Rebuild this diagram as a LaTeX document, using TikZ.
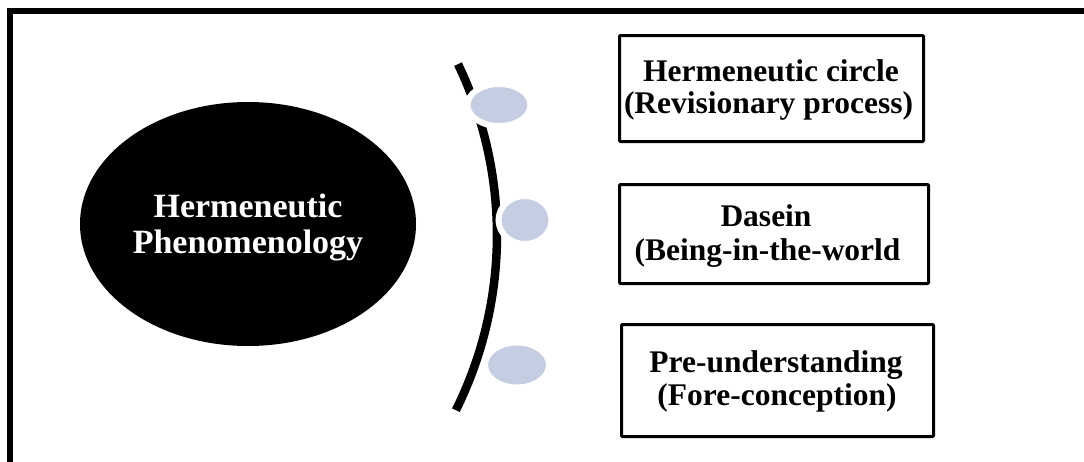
\documentclass[tikz,border=0pt]{standalone}
\usepackage{fontspec}
\setmainfont{Liberation Serif}
\usetikzlibrary{shapes.geometric}
\definecolor{blobblue}{RGB}{196,205,225}
\tikzset{
  frameline/.style={line width=6pt, draw=black},
  mainoval/.style={ellipse, fill=black, draw=none, inner sep=0pt,
    minimum width=336pt, minimum height=244pt},
  bracket/.style={line width=8.5pt, draw=black},
  blob/.style={ellipse, fill=blobblue, draw=white, line width=6pt, inner sep=0pt},
  infobox/.style={rectangle, draw=black, line width=3pt, rounded corners=1pt,
    fill=white, inner sep=0pt},
  ovaltext/.style={anchor=base, text=white, inner sep=0pt,
    font=\bfseries\fontsize{34}{36}\selectfont},
  boxtext/.style={anchor=base, text=black, inner sep=0pt,
    font=\bfseries\fontsize{31.5}{33}\selectfont}
}
\begin{document}
\begin{tikzpicture}[x=1pt, y=-1pt]
\useasboundingbox (0,0) rectangle (1084,461);
\clip (0,0) rectangle (1084,461);
\fill[white] (0,0) rectangle (1084,461);

% outer frame (only its top and left sides fall inside the page)
\draw[frameline] (10,11) rectangle (1100,480);

% central concept
\node[mainoval] (hp) at (248,224) {};
\node[ovaltext] (hp1) at (248,217) {Hermeneutic};
\node[ovaltext] (hp2) at (248,253) {Phenomenology};

% curved bracket
\coordinate (arcC) at (103,235);
\draw[bracket] ([shift={(25.7:394pt)}]arcC) arc[start angle=25.7, end angle=-26.4, radius=394pt];

% bullets on the bracket
\node[blob, minimum width=63pt, minimum height=42pt] (b1) at (499,105) {};
\node[blob, minimum width=53pt, minimum height=48pt] (b2) at (525,220) {};
\node[blob, minimum width=64pt, minimum height=45pt] (b3) at (517,365) {};

% concept boxes
\node[infobox, minimum width=304pt, minimum height=106pt] (box1) at (771.5,88.5) {};
\node[boxtext] (t1a) at (771,81) {Hermeneutic circle};
\node[boxtext] (t1b) at (768.5,113) {(Revisionary process)};

\node[infobox, minimum width=309pt, minimum height=99pt] (box2) at (774,234) {};
\node[boxtext] (t2a) at (766,226) {Dasein};
\node[boxtext] (t2b) at (767.5,260) {(Being-in-the-world};

\node[infobox, minimum width=312pt, minimum height=112pt] (box3) at (777.5,380.5) {};
\node[boxtext] (t3a) at (776,372) {Pre-understanding};
\node[boxtext] (t3b) at (777,405) {(Fore-conception)};
\end{tikzpicture}
\end{document}
